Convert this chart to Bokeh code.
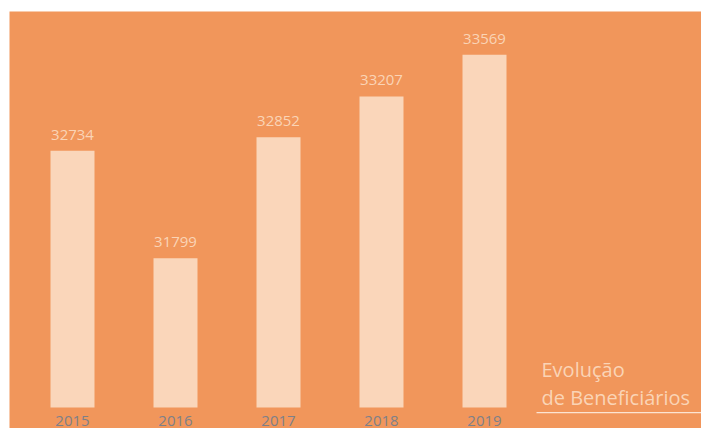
from bokeh.plotting import figure
from bokeh.models import Range1d, Label, ColumnDataSource, BoxAnnotation
from bokeh.embed import file_html
from bokeh.resources import INLINE
from bokeh.core.properties import value

years = ["2015", "2016", "2017", "2018", "2019"]
beneficiarios = [32734, 31799, 32852, 33207, 33569]
title_lines = ["Evolução", "de Beneficiários"]

BASE = 30500
ORANGE = "#F1965B"
BAR = "#FAD6BA"
TXT = "#FAD4B6"
GRAY = "#7E8088"

# pixel scale helpers (frame: x 9..701, y 11..428)
PX_X = 103.0      # px per category step
PX_Y = 0.1149     # px per value unit
X0 = -63 / PX_X
X1 = X0 + 692 / PX_X
Y0 = BASE - 21 / PX_Y
Y1 = Y0 + 417 / PX_Y


def fx(px):
    return X0 + (px - 9) / PX_X


def fy(py):
    return Y1 - (py - 11) / PX_Y


idx = list(range(len(years)))
src = ColumnDataSource(dict(x=idx, top=beneficiarios,
                            label=[str(v) for v in beneficiarios],
                            year=years, base=[BASE] * len(years)))

p = figure(width=701, height=428, output_backend="svg", toolbar_location=None,
           x_range=Range1d(X0, X1), y_range=Range1d(Y0, Y1),
           x_axis_location=None, y_axis_location=None,
           min_border=0, min_border_left=9, min_border_top=11,
           min_border_right=0, min_border_bottom=0)
p.background_fill_color = ORANGE
p.border_fill_color = "white"
p.outline_line_color = None
p.grid.visible = False

p.vbar(x="x", top="top", bottom=BASE, width=44 / PX_X, source=src,
       fill_color=BAR, line_color=None)

p.text(x="x", y="top", text="label", source=src, y_offset=-11,
       text_align="center", text_baseline="bottom",
       text_font=value("Open Sans"), text_font_size="15px", text_color=TXT)

p.text(x="x", y="base", text="year", source=src, y_offset=8,
       text_align="center", text_baseline="top",
       text_font=value("Open Sans"), text_font_size="15px", text_color=GRAY)

for line, py in zip(title_lines, [369, 397]):
    p.add_layout(Label(x=fx(541), y=fy(py), text=line,
                       text_align="left", text_baseline="middle",
                       text_font="Open Sans", text_font_size="20px",
                       text_color=TXT))

p.add_layout(BoxAnnotation(left=fx(536), right=fx(705),
                           top=fy(411.5), bottom=fy(412.7),
                           fill_color="#FCE4D2", fill_alpha=1.0,
                           line_color=None))

open("out.html", "w").write(file_html(p, INLINE))
